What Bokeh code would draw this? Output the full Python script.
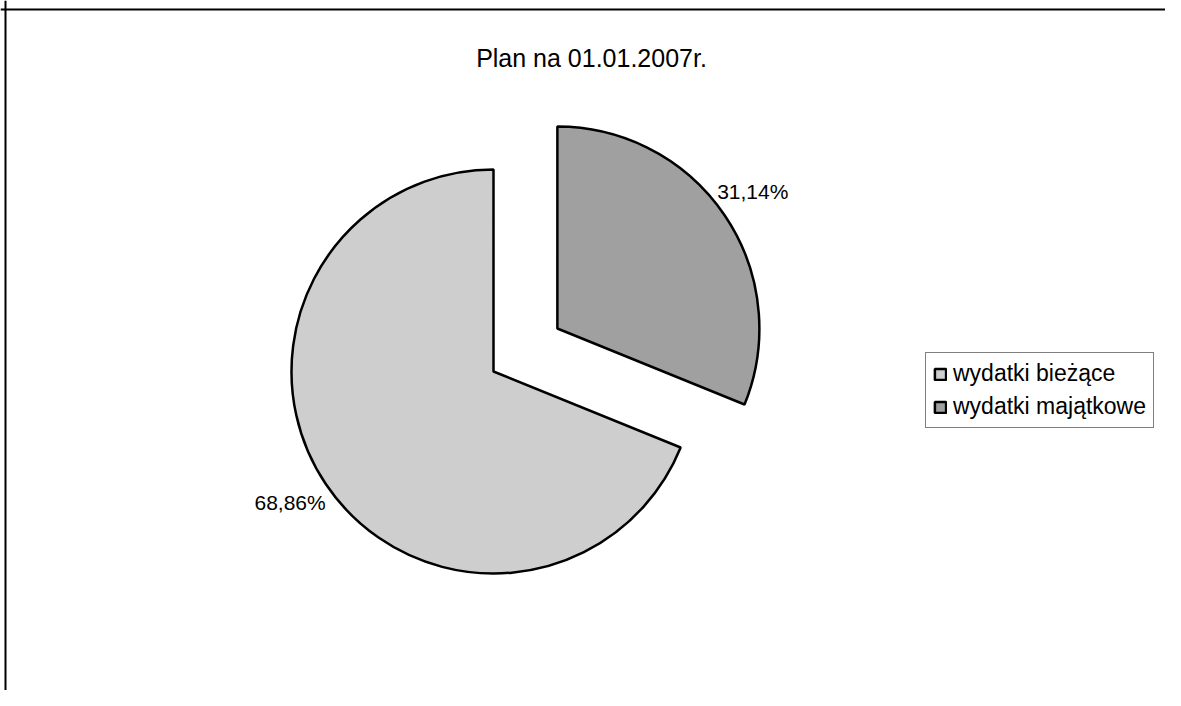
import math
from bokeh.plotting import figure
from bokeh.models import ColumnDataSource, Span, Label, Legend, LegendItem, Range1d, LabelSet
from bokeh.core.properties import value
from bokeh.embed import file_html
from bokeh.resources import INLINE

# ---- data ----
title_text = "Plan na 01.01.2007r."
categories = ["wydatki bieżące", "wydatki majątkowe"]
values = [68.86, 31.14]
labels = ["68,86%", "31,14%"]
colors = ["#cecece", "#a0a0a0"]
explode = [0, 77]

# ---- layout ----
W, H = 1165, 690
cx, cy, R = 493, 319, 202
label_factor = 1.19
FONT = "Liberation Sans"

total = sum(values)
first_angle = 360.0 * values[1] / total  # clockwise from 12 o'clock (Excel "angle of first slice")

starts, ends, xs, ys, lx, ly = [], [], [], [], [], []
theta = first_angle
for v, ex in zip(values, explode):
    t1 = theta
    t2 = theta + 360.0 * v / total
    theta = t2
    a1 = math.radians(90 - t1)
    a2 = math.radians(90 - t2)
    mid = (a1 + a2) / 2
    x0 = cx + ex * math.cos(mid)
    y0 = cy + ex * math.sin(mid)
    starts.append(a1)
    ends.append(a2)
    xs.append(x0)
    ys.append(y0)
    lx.append(x0 + label_factor * R * math.cos(mid))
    ly.append(y0 + label_factor * R * math.sin(mid))

src = ColumnDataSource(dict(x=xs, y=ys, start=starts, end=ends, color=colors,
                            cat=categories, lab=labels, lx=lx, ly=ly))

p = figure(width=W, height=H, output_backend="svg", toolbar_location=None,
           x_range=Range1d(0, W), y_range=Range1d(0, H), min_border=0)
p.axis.visible = False
p.grid.visible = False
p.outline_line_color = None
p.background_fill_color = "white"
p.border_fill_color = "white"

wr = p.wedge(x="x", y="y", radius=R, start_angle="start", end_angle="end",
             direction="clock", fill_color="color", line_color="black",
             line_width=2.5, source=src)

p.add_layout(LabelSet(x="lx", y="ly", text="lab", source=src, text_align="center",
                      text_baseline="middle", text_font=value(FONT),
                      text_font_size="21px", text_color="black",
                      x_offset=-4, y_offset=3))

p.add_layout(Label(x=591, y=H - 57, text=title_text, text_align="center",
                   text_baseline="middle", text_font=FONT, text_font_size="25px",
                   text_color="black"))

# frame of the scanned chart area (top and left edges)
p.add_layout(Span(location=H - 9, dimension="width", line_color="black", line_width=2))
p.add_layout(Span(location=5, dimension="height", line_color="black", line_width=2))

items = [LegendItem(label=c, renderers=[wr], index=i) for i, c in enumerate(categories)]
legend = Legend(items=items, location=(925, 262), border_line_color="black",
                border_line_width=1.5, background_fill_color="white",
                label_text_font=FONT, label_text_font_size="23px",
                label_text_color="black",
                glyph_width=14, glyph_height=14, label_standoff=6,
                padding=7, spacing=6, margin=0)
p.add_layout(legend, "center")

open("out.html", "w").write(file_html(p, INLINE))
